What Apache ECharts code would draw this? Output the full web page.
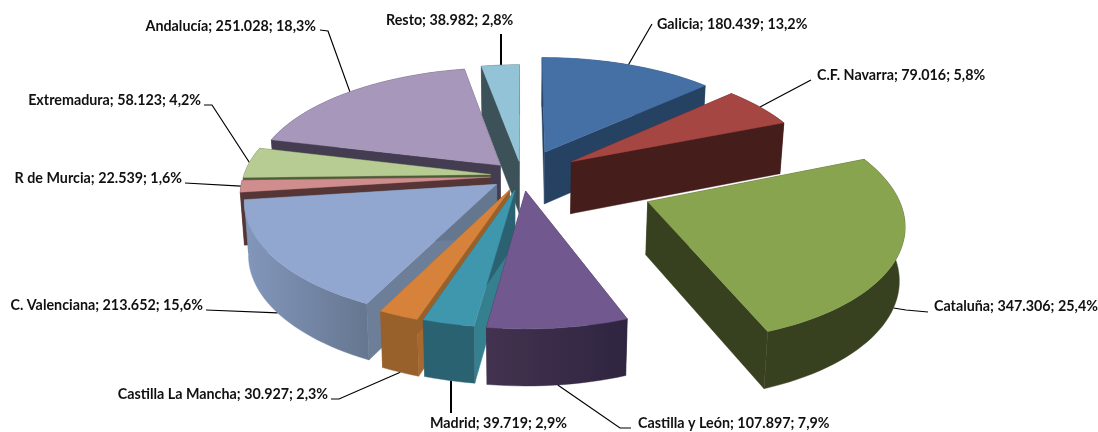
<!DOCTYPE html>
<html><head><meta charset="utf-8">
<style>html,body{margin:0;padding:0;background:#fff}#c{width:1098px;height:432px}</style>
<script src="https://cdn.jsdelivr.net/npm/echarts@6/dist/echarts.min.js"></script>
</head><body><div id="c"></div>
<script>
// ---- data
const categories = ['Galicia','C.F. Navarra','Cataluña','Castilla y León','Madrid','Castilla La Mancha','C. Valenciana','R de Murcia','Extremadura','Andalucía','Resto'];
const values = [180439,79016,347306,107897,39719,30927,213652,22539,58123,251028,38982];

// ---- styling (per slice, same order)
const explode = [.235,.24,.54,.13,.125,.13,.125,.128,.128,.13,.13];
const radiusScale = [1,1,.99,1,1,1,1,1,1,1,1];
const topColors = ['#4470a6','#a64643','#88a44f','#71598f','#3f97ae','#d7823b','#92a7cf','#cf8e8d','#b7cc92','#a797ba','#92c3d7'];
const wallColors = ['#264263','#451d1b','#38411f','#3a2c4e','#35808f','#a9682e','#6d7e99','#553535','#4d5c38','#443c51','#3d5159'];
const outerFrom = ['#264263','#451d1b','#38411f','#43324f','#2b6272','#98602a','#8397bc','#553535','#4d5c38','#443c51','#3d5159'];
const outerTo = ['#264263','#451d1b','#38411f','#2f2540','#2b6272','#98602a','#65768f','#553535','#4d5c38','#443c51','#3d5159'];
// label layout: text x, text y, text align, leader start x,y, optional elbow x,y, anchor on bottom rim?, leader width
const labelLayout = [
  {x:657,y:24,a:'left', s:[652,24],bottom:false,w:1.2},
  {x:817,y:75,a:'left', s:[811,80],bottom:false,w:1.2},
  {x:934,y:306,a:'left',s:[928,312],e:[906,310],bottom:true,w:1.2},
  {x:638,y:423,a:'left',s:[631,428],e:[620,428],bottom:true,w:1.2},
  {x:430,y:423,a:'left',s:[451,413],bottom:true,w:2,vert:true},
  {x:328,y:394,a:'right',s:[331,399],e:[339,399],bottom:true,w:1.2},
  {x:203,y:305,a:'right',s:[206,310],bottom:true,w:1.2},
  {x:182,y:178,a:'right',s:[185,183],bottom:false,w:1.2},
  {x:201,y:100,a:'right',s:[204,105],e:[212,105],bottom:false,w:1.2},
  {x:316,y:26,a:'right',s:[320,30],e:[328,31],bottom:false,w:1.2},
  {x:386,y:20,a:'left',s:[501,34],bottom:false,w:2,vert:true}
];
// projection
const CX=522, CY=176, RX=247, RY=114, PX=.135, PY=.14, DEPTH=52.5, BOTX=.985, BOTY=.03;

const total = values.reduce((a,b)=>a+b,0);
const fmtVal = v => String(v).replace(/\B(?=(\d{3})+$)/g,'.');
const fmtPct = v => (v/total*100).toFixed(1).replace('.',',');
const project = (u,v,bottom) => {
  const x = CX+RX*u/(1-PX*v), y = CY+RY*v/(1-PY*v);
  return bottom ? [CX+(x-CX)*BOTX, y+DEPTH+(y-CY)*BOTY] : [x,y];
};
const starts = []; values.reduce((acc,v,i)=>{starts[i]=acc; return acc+v;},0);
const midV = values.map((v,i)=>{const m=(starts[i]+v/2)/total*2*Math.PI; return Math.cos(m);});
const rank = midV.map(m => midV.filter(o=>o>m).length); // 0 = back

function renderItem(params, api){
  const i = params.dataIndex, val = api.value(1);
  const a0 = starts[i]/total*2*Math.PI, a1 = a0+val/total*2*Math.PI, am=(a0+a1)/2;
  const e = explode[i], r = radiusScale[i];
  const tu = e*Math.sin(am), tv = e*Math.cos(am)*-1;
  const n = Math.max(3, Math.ceil((a1-a0)/(Math.PI/90)));
  const top=[], bot=[];
  for(let k=0;k<=n;k++){
    const a=a0+(a1-a0)*k/n, u=tu+r*Math.sin(a), v=tv-r*Math.cos(a);
    top.push(project(u,v,false)); bot.push(project(u,v,true));
  }
  const tipT=project(tu,tv,false), tipB=project(tu,tv,true);
  const z=100+rank[i]*10;
  const poly=(pts,fill,dz)=>({type:'polygon',z2:z+dz,silent:true,shape:{points:pts},style:{fill:fill,stroke:fill,lineWidth:.4}});
  const grad=new echarts.graphic.LinearGradient(0,0,1,0,[{offset:0,color:outerFrom[i]},{offset:1,color:outerTo[i]}]);
  const outer=top.concat(bot.slice().reverse());
  const L=labelLayout[i];
  const anc=project(tu+r*Math.sin(am),tv-r*Math.cos(am),L.bottom);
  if(L.vert) anc[0]=L.s[0];
  const pts=[L.s]; if(L.e) pts.push(L.e); pts.push(anc);
  return {type:'group',children:[
    {type:'polyline',z2:5,silent:true,shape:{points:pts},style:{fill:null,stroke:'#000',lineWidth:L.w}},
    {type:'text',z2:6,silent:true,style:{x:L.x,y:L.y,text:categories[i]+'; '+fmtVal(val)+'; '+fmtPct(val)+'%',
      font:'bold 14.3px Lato, "Open Sans", sans-serif',fill:'#111',textAlign:L.a,textVerticalAlign:'middle'}},
    poly([tipT,top[0],bot[0],tipB],wallColors[i],0),
    poly([tipT,top[n],bot[n],tipB],i===3||i===4||i===5||i===6?outerTo[i]:wallColors[i],1),
    poly(outer,grad,2),
    poly([tipT].concat(top),topColors[i],3)
  ]};
}
const chart=echarts.init(document.getElementById('c'),null,{renderer:'canvas'});
chart.setOption({animation:false,backgroundColor:'#fff',series:[{
  type:'custom',coordinateSystem:'none',renderItem:renderItem,
  data:categories.map((c,i)=>[c,values[i]]),
  encode:{itemName:0,value:1},silent:true
}]});
</script></body></html>
